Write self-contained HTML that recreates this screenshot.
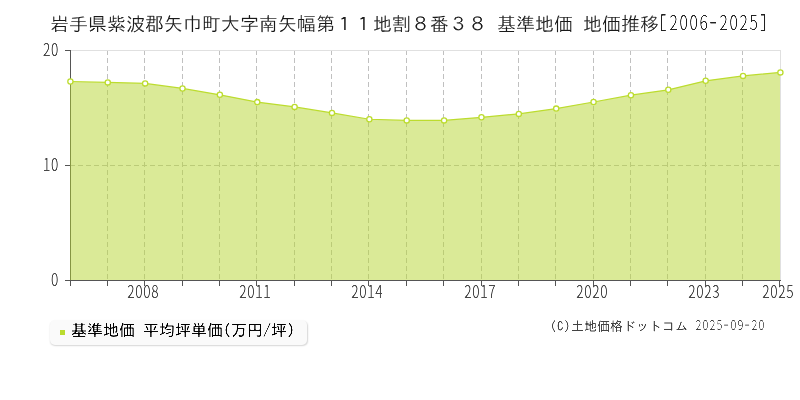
<!DOCTYPE html>
<html><head><meta charset="utf-8"><style>
html,body{margin:0;padding:0;background:#fff;width:800px;height:400px;overflow:hidden}
svg{display:block;position:absolute;left:0;top:0}
.legend{position:absolute;left:50px;top:320px;width:257px;height:25px;background:#fafafa;border-radius:5px;box-shadow:0.5px 1px 1.5px rgba(0,0,0,0.16)}
.legend .sq{position:absolute;left:10px;top:10px;width:5px;height:5px;background:#badb2e}
svg.lg{position:absolute;left:0;top:0}
</style></head><body>
<svg width="800" height="400" viewBox="0 0 800 400">
<defs>
<filter id="th" color-interpolation-filters="sRGB" filterUnits="userSpaceOnUse" x="0" y="0" width="800" height="400"><feComponentTransfer><feFuncA type="linear" slope="2" intercept="-0.5"/></feComponentTransfer></filter>
<filter id="gs" color-interpolation-filters="sRGB" filterUnits="userSpaceOnUse" x="0" y="0" width="800" height="400"><feComponentTransfer><feFuncA type="linear" slope="1.5" intercept="-0.1"/></feComponentTransfer></filter>
</defs>
<rect x="0" y="0" width="800" height="400" fill="#fff"/>
<g stroke="#c0c0c0" stroke-width="1" stroke-dasharray="5,3" fill="none"><line x1="107.5" y1="50" x2="107.5" y2="280"/><line x1="144.5" y1="50" x2="144.5" y2="280"/><line x1="182.5" y1="50" x2="182.5" y2="280"/><line x1="219.5" y1="50" x2="219.5" y2="280"/><line x1="256.5" y1="50" x2="256.5" y2="280"/><line x1="294.5" y1="50" x2="294.5" y2="280"/><line x1="331.5" y1="50" x2="331.5" y2="280"/><line x1="368.5" y1="50" x2="368.5" y2="280"/><line x1="406.5" y1="50" x2="406.5" y2="280"/><line x1="443.5" y1="50" x2="443.5" y2="280"/><line x1="481.5" y1="50" x2="481.5" y2="280"/><line x1="518.5" y1="50" x2="518.5" y2="280"/><line x1="555.5" y1="50" x2="555.5" y2="280"/><line x1="593.5" y1="50" x2="593.5" y2="280"/><line x1="630.5" y1="50" x2="630.5" y2="280"/><line x1="667.5" y1="50" x2="667.5" y2="280"/><line x1="705.5" y1="50" x2="705.5" y2="280"/><line x1="742.5" y1="50" x2="742.5" y2="280"/>
<line x1="70" y1="165.5" x2="780" y2="165.5"/></g>
<line x1="70" y1="50.5" x2="780" y2="50.5" stroke="#e0e0e0" stroke-width="1"/>
<line x1="780.5" y1="50" x2="780.5" y2="280" stroke="#e0e0e0" stroke-width="1"/>
<line x1="70.5" y1="50" x2="70.5" y2="281" stroke="#555" stroke-width="1"/>
<path d="M70,280 L70,81.5 L70.40,81.50 L107.77,82.40 L145.14,83.40 L182.51,88.45 L219.87,94.80 L257.24,102.10 L294.61,106.90 L331.98,112.90 L369.35,119.25 L406.72,120.40 L444.08,120.40 L481.45,117.30 L518.82,113.90 L556.19,108.60 L593.56,102.00 L630.93,95.20 L668.29,89.80 L705.66,80.80 L743.03,75.90 L780.40,72.40 L780,72.4 L780,280 Z" fill="rgba(181,213,48,0.5)"/>
<path d="M70.40,81.50 L107.77,82.40 L145.14,83.40 L182.51,88.45 L219.87,94.80 L257.24,102.10 L294.61,106.90 L331.98,112.90 L369.35,119.25 L406.72,120.40 L444.08,120.40 L481.45,117.30 L518.82,113.90 L556.19,108.60 L593.56,102.00 L630.93,95.20 L668.29,89.80 L705.66,80.80 L743.03,75.90 L780.40,72.40" fill="none" stroke="#bcdc2e" stroke-width="1.2"/>
<g stroke="#555" stroke-width="1">
<line x1="70" y1="280.5" x2="781" y2="280.5"/>
<line x1="65" y1="50.5" x2="70" y2="50.5"/>
<line x1="65" y1="165.5" x2="70" y2="165.5"/>
<line x1="65" y1="280.5" x2="70" y2="280.5"/>
<line x1="70.5" y1="280" x2="70.5" y2="286"/><line x1="107.5" y1="280" x2="107.5" y2="286"/><line x1="144.5" y1="280" x2="144.5" y2="286"/><line x1="182.5" y1="280" x2="182.5" y2="286"/><line x1="219.5" y1="280" x2="219.5" y2="286"/><line x1="256.5" y1="280" x2="256.5" y2="286"/><line x1="294.5" y1="280" x2="294.5" y2="286"/><line x1="331.5" y1="280" x2="331.5" y2="286"/><line x1="368.5" y1="280" x2="368.5" y2="286"/><line x1="406.5" y1="280" x2="406.5" y2="286"/><line x1="443.5" y1="280" x2="443.5" y2="286"/><line x1="481.5" y1="280" x2="481.5" y2="286"/><line x1="518.5" y1="280" x2="518.5" y2="286"/><line x1="555.5" y1="280" x2="555.5" y2="286"/><line x1="593.5" y1="280" x2="593.5" y2="286"/><line x1="630.5" y1="280" x2="630.5" y2="286"/><line x1="667.5" y1="280" x2="667.5" y2="286"/><line x1="705.5" y1="280" x2="705.5" y2="286"/><line x1="742.5" y1="280" x2="742.5" y2="286"/><line x1="779.5" y1="280" x2="779.5" y2="286"/>
</g>
<g fill="#fff" stroke="#bcdc2e" stroke-width="1.3"><circle cx="70.40" cy="81.50" r="2.6"/><circle cx="107.77" cy="82.40" r="2.6"/><circle cx="145.14" cy="83.40" r="2.6"/><circle cx="182.51" cy="88.45" r="2.6"/><circle cx="219.87" cy="94.80" r="2.6"/><circle cx="257.24" cy="102.10" r="2.6"/><circle cx="294.61" cy="106.90" r="2.6"/><circle cx="331.98" cy="112.90" r="2.6"/><circle cx="369.35" cy="119.25" r="2.6"/><circle cx="406.72" cy="120.40" r="2.6"/><circle cx="444.08" cy="120.40" r="2.6"/><circle cx="481.45" cy="117.30" r="2.6"/><circle cx="518.82" cy="113.90" r="2.6"/><circle cx="556.19" cy="108.60" r="2.6"/><circle cx="593.56" cy="102.00" r="2.6"/><circle cx="630.93" cy="95.20" r="2.6"/><circle cx="668.29" cy="89.80" r="2.6"/><circle cx="705.66" cy="80.80" r="2.6"/><circle cx="743.03" cy="75.90" r="2.6"/><circle cx="780.40" cy="72.40" r="2.6"/></g>
<g fill="#484848" filter="url(#gs)"><text transform="translate(42.8,55.5) scale(0.76,1.0)" x="0.263158 10.7895" y="0" font-family="Noto Sans CJK JP, sans-serif" font-weight="300" font-size="18">20</text><text transform="translate(42.8,170.5) scale(0.76,1.0)" x="0.263158 10.7895" y="0" font-family="Noto Sans CJK JP, sans-serif" font-weight="300" font-size="18">10</text><text transform="translate(50.8,285.5) scale(0.76,1.0)" x="0.263158" y="0" font-family="Noto Sans CJK JP, sans-serif" font-weight="300" font-size="18">0</text><text transform="translate(127.0,297.5) scale(0.76,1.0)" x="0.263158 10.7895 21.3158 31.8421" y="0" font-family="Noto Sans CJK JP, sans-serif" font-weight="300" font-size="18">2008</text><text transform="translate(239.0,297.5) scale(0.76,1.0)" x="0.263158 10.7895 21.3158 31.8421" y="0" font-family="Noto Sans CJK JP, sans-serif" font-weight="300" font-size="18">2011</text><text transform="translate(351.0,297.5) scale(0.76,1.0)" x="0.263158 10.7895 21.3158 31.8421" y="0" font-family="Noto Sans CJK JP, sans-serif" font-weight="300" font-size="18">2014</text><text transform="translate(464.0,297.5) scale(0.76,1.0)" x="0.263158 10.7895 21.3158 31.8421" y="0" font-family="Noto Sans CJK JP, sans-serif" font-weight="300" font-size="18">2017</text><text transform="translate(576.0,297.5) scale(0.76,1.0)" x="0.263158 10.7895 21.3158 31.8421" y="0" font-family="Noto Sans CJK JP, sans-serif" font-weight="300" font-size="18">2020</text><text transform="translate(688.0,297.5) scale(0.76,1.0)" x="0.263158 10.7895 21.3158 31.8421" y="0" font-family="Noto Sans CJK JP, sans-serif" font-weight="300" font-size="18">2023</text><text transform="translate(762.0,297.5) scale(0.76,1.0)" x="0.263158 10.7895 21.3158 31.8421" y="0" font-family="Noto Sans CJK JP, sans-serif" font-weight="300" font-size="18">2025</text></g>
<g filter="url(#th)" font-family="IPAGothic, sans-serif">
<text x="50 69 88 107 126 145 164 183 202 221 240 259 278 297 316 335 354 373 392 411 430 449 468 487 497 516 535 554 573 583 602 621 640" y="30.5" font-size="19" fill="#1a1a1a" stroke="#fff" stroke-width="0.2" style="white-space:pre">岩手県紫波郡矢巾町大字南矢幅第１１地割８番３８ 基準地価 地価推移</text>
<text transform="translate(659,30) scale(0.78,1)" x="0.641026 13.4615 26.2821 39.1026 51.9231 64.7436 77.5641 90.3846 103.205 116.026 128.846" y="0" font-family="Noto Sans CJK JP, sans-serif" font-weight="300" font-size="20" fill="#222"><tspan font-family="IPAGothic, sans-serif" font-weight="400" font-size="19">[</tspan>2006<tspan font-family="IPAGothic, sans-serif" font-weight="400" font-size="19">-</tspan>2025<tspan font-family="IPAGothic, sans-serif" font-weight="400" font-size="19">]</tspan></text>
<text x="550 557 564 571 584 597 610 623 636 649 662 675" y="330.5" font-size="13" fill="#444">(C)土地価格ドットコム</text>
<text transform="translate(695,330.4) scale(0.85,1)" x="0.705882 8.94118 17.1765 25.4118 33.6471 41.8824 50.1176 58.3529 66.5882 74.8235" y="0" font-family="Noto Sans CJK JP, sans-serif" font-weight="300" font-size="13" fill="#444">2025<tspan font-family="IPAGothic, sans-serif" font-weight="400">-</tspan>09<tspan font-family="IPAGothic, sans-serif" font-weight="400">-</tspan>20</text>
</g>
</svg>
<div class="legend"><span class="sq"></span></div>
<svg class="lg" width="800" height="400" viewBox="0 0 800 400"><defs><filter id="th2" color-interpolation-filters="sRGB" filterUnits="userSpaceOnUse" x="0" y="0" width="800" height="400"><feComponentTransfer><feFuncA type="linear" slope="2" intercept="-0.5"/></feComponentTransfer></filter></defs>
<text filter="url(#th2)" x="71 87 103 119 135 143 159 175 191 207 223 231 247 263 271 287" y="335.5" font-family="IPAGothic, sans-serif" font-size="16" fill="#000" style="white-space:pre">基準地価 平均坪単価(万円/坪)</text></svg>
</body></html>
